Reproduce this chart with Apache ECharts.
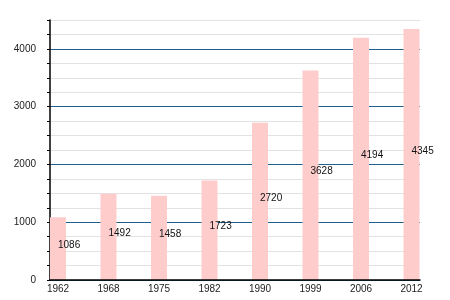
<!DOCTYPE html>
<html>
<head>
<meta charset="utf-8">
<script src="https://cdn.jsdelivr.net/npm/echarts@6/dist/echarts.min.js"></script>
<style>html,body{margin:0;padding:0;background:#fff}#c{width:450px;height:300px}</style>
</head>
<body>
<div id="c"></div>
<script>
var categories = ['1962', '1968', '1975', '1982', '1990', '1999', '2006', '2012'];
var values = [1086, 1492, 1458, 1723, 2720, 3628, 4194, 4345];
var yTickLabels = [0, 1000, 2000, 3000, 4000];

var chart = echarts.init(document.getElementById('c'), null, {renderer: 'canvas'});
var font = 'Liberation Sans, Arial, sans-serif';
chart.setOption({
  animation: false,
  backgroundColor: '#fff',
  grid: [
    {left: 50, right: 30, top: 20, bottom: 20},
    {left: 58, right: 38.5, top: 20, bottom: 20}
  ],
  xAxis: [
    {gridIndex: 0, type: 'category', data: categories, boundaryGap: false,
     axisLine: {show: true, lineStyle: {color: '#000', width: 1.5}},
     axisTick: {show: false}, axisLabel: {show: false}, splitLine: {show: false}, z: 5},
    {gridIndex: 1, type: 'category', data: categories, boundaryGap: false,
     axisLine: {show: false}, axisTick: {show: false},
     axisLabel: {show: true, color: '#222', fontSize: 10, fontFamily: font, margin: 4, interval: 0},
     splitLine: {show: false}}
  ],
  yAxis: [
    {gridIndex: 0, type: 'value', min: 0, max: 4500, interval: 250,
     axisLine: {show: true, lineStyle: {color: '#000', width: 1.5}},
     axisTick: {show: true, inside: false, length: 3, lineStyle: {color: '#000'}},
     axisLabel: {color: '#222', fontSize: 10, fontFamily: font, margin: 14,
       formatter: function (v) { return yTickLabels.indexOf(v) >= 0 ? String(v) : ''; }},
     splitLine: {show: true, lineStyle: {color: ['#1f5f8b', '#e2e2e2', '#e2e2e2', '#e2e2e2'], width: 1}}},
    {gridIndex: 1, type: 'value', min: 0, max: 4500, interval: 250, show: false,
     splitLine: {show: false}}
  ],
  series: [{
    type: 'bar', xAxisIndex: 1, yAxisIndex: 1, data: values, barWidth: 16,
    itemStyle: {color: '#ffcccc'},
    label: {show: true, position: 'inside', align: 'left', offset: [0, -3.5],
      color: '#111', fontSize: 10, fontFamily: font},
    z: 3
  }]
});
</script>
</body>
</html>
